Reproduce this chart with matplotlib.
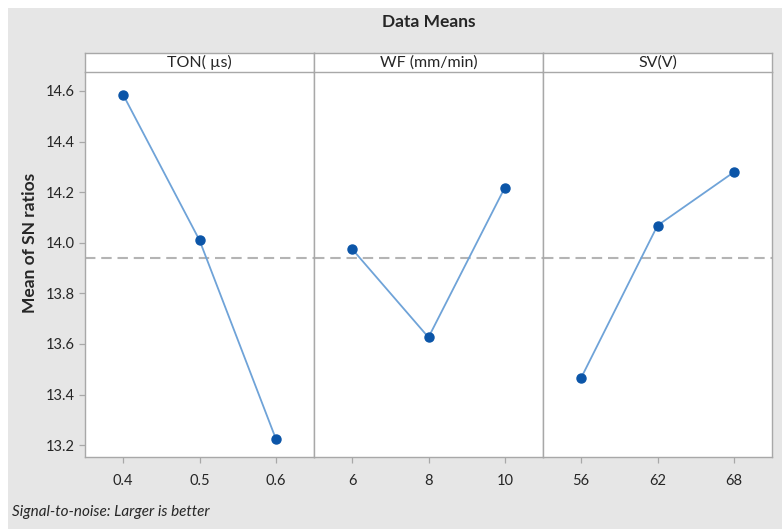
import matplotlib
matplotlib.use("Agg")
import matplotlib.pyplot as plt
from matplotlib.patches import Rectangle

plt.rcParams['font.family'] = ['Liberation Sans Narrow', 'Lato', 'DejaVu Sans']

# factor names and levels
factors = ["TON( µs)", "WF (mm/min)", "SV(V)"]
levels = [["0.4", "0.5", "0.6"],
          ["6", "8", "10"],
          ["56", "62", "68"]]

# mean S/N ratio for each level
ton_means = [14.585, 14.010, 13.225]
wf_means = [13.975, 13.626, 14.218]
sv_means = [13.466, 14.068, 14.279]
grand_mean = 13.94

yticks = [13.2, 13.4, 13.6, 13.8, 14.0, 14.2, 14.4, 14.6]

W, H = 782, 529
fig = plt.figure(figsize=(W / 100, H / 100), dpi=100, facecolor="white")

# grey panel behind everything
fig.patches.append(Rectangle((8 / W, 0), 1, (H - 8) / H, transform=fig.transFigure,
                             facecolor="#e6e6e6", edgecolor="none", zorder=-5))

left, right = 85, 772
top, bottom = 72, 457
strip_top = 53
pw = (right - left) / 3

line_col = "#6fa3d8"
dot_col = "#0b55a8"
frame_col = "#a8a8a8"
text_col = "#262626"

for i, (name, labs, vals) in enumerate(zip(factors, levels, [ton_means, wf_means, sv_means])):
    x0 = left + i * pw
    ax = fig.add_axes([x0 / W, (H - bottom) / H, pw / W, (bottom - top) / H])
    xs = list(range(len(vals)))
    ax.plot(xs, vals, color=line_col, linewidth=1.3, zorder=2)
    ax.plot(xs, vals, "o", color=dot_col, markersize=6.5, zorder=3)
    ax.axhline(grand_mean, color="#b4b4b4", linestyle=(0, (5, 2.8)), linewidth=1.5, zorder=1)
    ax.set_xlim(-0.5, 2.5)
    ax.set_ylim(13.153, 14.675)
    ax.set_xticks(xs)
    ax.set_xticklabels(labs)
    ax.set_yticks(yticks)
    ax.set_yticklabels(["{:.1f}".format(v) for v in yticks])
    ax.tick_params(axis="both", colors=frame_col, labelcolor=text_col, labelsize=10.5,
                   length=4, width=0.9, direction="out")
    ax.tick_params(axis="x", pad=8)
    if i > 0:
        ax.tick_params(axis="y", left=False, labelleft=False)
    for s in ax.spines.values():
        s.set_color(frame_col)
        s.set_linewidth(1.0)
    ax.spines["top"].set_visible(False)
    ax.set_facecolor("white")

    # factor name strip
    sax = fig.add_axes([x0 / W, (H - top) / H, pw / W, (top - strip_top) / H])
    sax.set_xticks([])
    sax.set_yticks([])
    sax.set_facecolor("white")
    for s in sax.spines.values():
        s.set_color(frame_col)
        s.set_linewidth(1.0)
    sax.text(0.5, 0.48, name, ha="center", va="center", fontsize=11.5,
             color=text_col, transform=sax.transAxes)

fig.text((left + right) / 2 / W, 1 - 22 / H, "Data Means", ha="center", va="center",
         fontsize=12.5, fontweight="bold", color=text_col)
fig.text(30 / W, 1 - 243 / H, "Mean of SN ratios", ha="center", va="center",
         rotation=90, fontsize=12.5, fontweight="bold", color=text_col)
fig.text(12 / W, 1 - 512 / H, "Signal-to-noise: Larger is better", ha="left", va="center",
         fontsize=11, fontstyle="italic", color=text_col)

fig.savefig("out.png", dpi=100, facecolor=fig.get_facecolor())
